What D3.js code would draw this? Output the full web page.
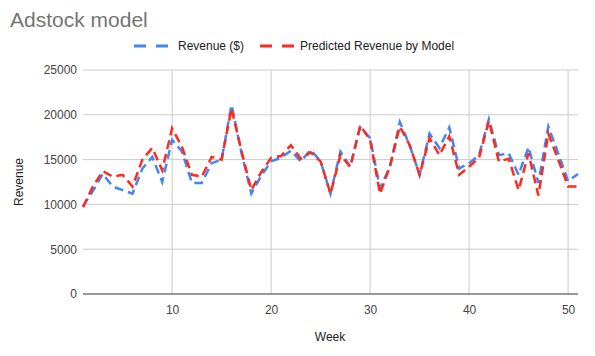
<!DOCTYPE html>
<html><head><meta charset="utf-8">
<script src="https://cdn.jsdelivr.net/npm/d3@7"></script>
<style>body{margin:0;background:#fff}svg{display:block;font-family:Arial,"Liberation Sans",sans-serif}</style>
</head><body><svg id="c" width="595" height="356"></svg>
<script>
const weeks = d3.range(1, 52);
const revenue = [9800,11500,13400,12000,11600,11200,14000,15300,12500,17200,15900,12400,12400,14600,15000,21100,15800,11200,13200,14800,15200,16000,14800,16100,14800,11200,15900,14200,18600,17400,11800,14200,19200,16600,13300,17900,16300,18600,14000,14600,15500,19500,15500,15700,13300,16400,12400,18700,15700,12600,13400];
const predicted = [9700,12000,13700,13100,13300,12000,15000,16300,13800,18500,16400,13300,13100,15300,15000,20700,16000,11600,13600,15200,15400,16600,15100,15800,14800,11200,15500,14200,18800,17200,11200,14200,18700,16600,13300,17400,15500,17600,13300,14200,15200,19300,14800,15100,11600,15700,11000,17900,15000,12000,12000];
const yTicks = [0,5000,10000,15000,20000,25000];
const xTicks = [10,20,30,40,50];
const seriesNames = ["Revenue ($)", "Predicted Revenue by Model"];
const colors = ["#4285f4", "#ff2a1f"];

const svg = d3.select("#c");
const x = d3.scaleLinear().domain([1,51]).range([83,578]);
const y = d3.scaleLinear().domain([0,25000]).range([294,70]);

// title
svg.append("text").attr("x",10).attr("y",27).attr("font-size",21).attr("fill","#757575").text("Adstock model");

// gridlines
svg.append("g").selectAll("line").data(yTicks.filter(d=>d>0)).join("line")
  .attr("x1",83).attr("x2",578).attr("y1",d=>y(d)).attr("y2",d=>y(d))
  .attr("stroke","#cccccc").attr("stroke-width",1);
svg.append("g").selectAll("line").data(xTicks).join("line")
  .attr("x1",d=>x(d)).attr("x2",d=>x(d)).attr("y1",70).attr("y2",294)
  .attr("stroke","#cccccc").attr("stroke-width",1);

// y labels
const yAxis = d3.axisLeft(y).tickValues(yTicks).tickSize(0).tickPadding(6).tickFormat(d3.format("d"));
const gy = svg.append("g").attr("transform","translate(83,0)").call(yAxis);
gy.select(".domain").remove();
gy.selectAll("text").attr("font-size",12).attr("fill","#444").attr("font-family","Arial,'Liberation Sans',sans-serif");

// x labels
const xAxis = d3.axisBottom(x).tickValues(xTicks).tickSize(0).tickPadding(11).tickFormat(d3.format("d"));
const gx = svg.append("g").attr("transform","translate(0,294)").call(xAxis);
gx.select(".domain").remove();
gx.selectAll("text").attr("font-size",12).attr("fill","#444").attr("font-family","Arial,'Liberation Sans',sans-serif");

// baseline
svg.append("line").attr("x1",83).attr("x2",578).attr("y1",y(0)).attr("y2",y(0)).attr("stroke","#333").attr("stroke-width",1);

// lines
const line = d3.line().x((d,i)=>x(weeks[i])).y(d=>y(d));
[revenue, predicted].forEach((s,k)=>{
  svg.append("path").datum(s).attr("d",line).attr("fill","none")
    .attr("stroke",colors[k]).attr("stroke-width",2.5).attr("stroke-dasharray","9,5");
});

// axis titles
svg.append("text").attr("x",330).attr("y",341).attr("text-anchor","middle").attr("font-size",12).attr("fill","#222").text("Week");
svg.append("text").attr("transform","translate(23,182) rotate(-90)").attr("text-anchor","middle").attr("font-size",12).attr("fill","#222").text("Revenue");

// legend
const leg = [{x:134, tx:178},{x:260, tx:300}];
leg.forEach((l,k)=>{
  svg.append("line").attr("x1",l.x).attr("x2",l.x+36).attr("y1",46).attr("y2",46)
    .attr("stroke",colors[k]).attr("stroke-width",3).attr("stroke-dasharray","12,10");
  svg.append("text").attr("x",l.tx).attr("y",50).attr("font-size",12).attr("fill","#222").text(seriesNames[k]);
});
</script></body></html>
